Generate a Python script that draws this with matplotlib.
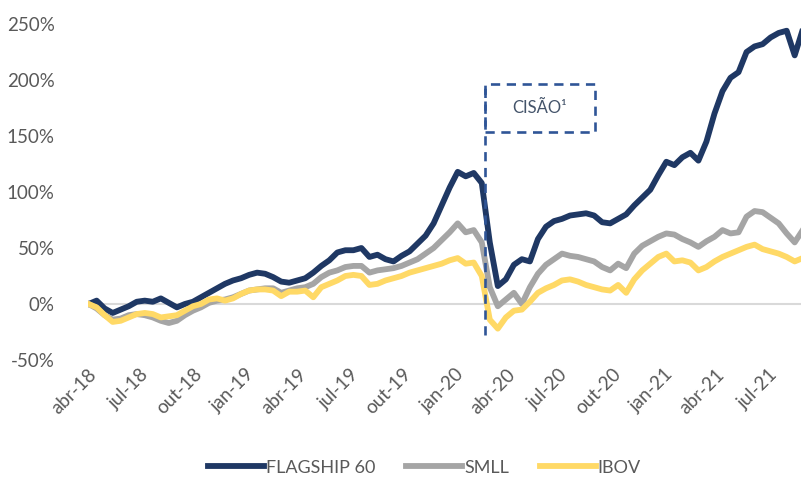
import matplotlib
matplotlib.use("Agg")
import matplotlib.pyplot as plt
import matplotlib.dates as mdates
import pandas as pd
from matplotlib.patches import Rectangle

plt.rcParams['font.family'] = ['Lato', 'DejaVu Sans']

# datas quinzenais (amostragem do eixo x)
datas = pd.date_range('2018-04-02', periods=90, freq='14D')

# retornos acumulados em %
flagship = [0, 3, -4, -8, -5, -2, 2, 3, 2, 5, 1, -3, 0, 2, 6, 10, 14, 18, 21, 23,
            26, 28, 27, 24, 20, 19, 21, 23, 28, 34, 39, 46, 48, 48, 50, 42, 44, 40, 38, 43,
            47, 54, 61, 72, 88, 104, 118, 114, 117, 108, 55, 16, 22, 35, 40, 38, 58, 69, 74, 76,
            79, 80, 81, 79, 73, 72, 76, 80, 88, 95, 102, 115, 127, 124, 131, 135, 128, 145, 170, 190,
            202, 207, 225, 230, 232, 238, 242, 244, 222, 245]
smll = [0, -4, -10, -14, -13, -10, -9, -10, -12, -15, -17, -15, -10, -6, -3, 1, 3, 4, 6, 9,
        12, 13, 14, 14, 10, 12, 14, 15, 18, 24, 28, 30, 33, 34, 34, 28, 30, 31, 32, 34,
        37, 40, 45, 50, 57, 64, 72, 64, 66, 55, 15, -2, 4, 10, 0, 15, 27, 35, 40, 45,
        43, 42, 40, 38, 33, 30, 36, 32, 45, 52, 56, 60, 63, 62, 58, 55, 51, 56, 60, 66,
        63, 64, 78, 83, 82, 77, 72, 63, 55, 66]
ibov = [0, -3, -10, -16, -15, -12, -9, -8, -9, -12, -11, -10, -6, -2, 0, 4, 5, 3, 5, 9,
        12, 13, 13, 12, 7, 11, 11, 12, 6, 15, 18, 21, 25, 26, 25, 17, 18, 21, 23, 25,
        28, 30, 32, 34, 36, 39, 41, 36, 37, 25, -14, -22, -12, -6, -5, 2, 10, 14, 17, 21,
        22, 20, 17, 15, 13, 12, 17, 10, 22, 30, 36, 42, 45, 38, 39, 37, 30, 33, 38, 42,
        45, 48, 51, 53, 49, 47, 45, 42, 38, 41]

data_cisao = pd.Timestamp('2020-02-22')

cor_flag = '#1F3864'
cor_smll = '#A5A5A5'
cor_ibov = '#FFD966'
cor_caixa = '#2F5597'
cor_texto = '#595959'

fig = plt.figure(figsize=(8.01, 4.87), dpi=100)
ax = fig.add_axes([0.1099, 0.2608, 0.8901, 0.6899])

# linha do zero
ax.axhline(0, color='#D9D9D9', linewidth=1.5, zorder=1)

ax.plot(datas, flagship, color=cor_flag, linewidth=4.2, label='FLAGSHIP 60', zorder=3)
ax.plot(datas, smll, color=cor_smll, linewidth=4.2, label='SMLL', zorder=4)
ax.plot(datas, ibov, color=cor_ibov, linewidth=4.2, label='IBOV', zorder=5)

# marcacao da cisao
tracejado = (0, (3.5, 2.5))
ax.plot([data_cisao, data_cisao], [-28, 196], color=cor_caixa, linewidth=1.9,
        linestyle=tracejado, zorder=6)
largura = pd.Timedelta(days=192)
caixa = Rectangle((mdates.date2num(data_cisao), 154), largura.days, 42,
                  fill=False, edgecolor=cor_caixa, linewidth=1.9,
                  linestyle=tracejado, zorder=6)
ax.add_patch(caixa)
ax.text(data_cisao + largura / 2, 175, 'CISÃO¹', ha='center', va='center',
        fontsize=12, color='#44546A')

ax.set_ylim(-50, 250)
ax.set_xlim(pd.Timestamp('2018-04-01'), pd.Timestamp('2021-08-27'))
ax.set_yticks(range(-50, 251, 50))
ax.set_yticklabels([f'{v}%' for v in range(-50, 251, 50)])

meses = ['jan', 'fev', 'mar', 'abr', 'mai', 'jun', 'jul', 'ago', 'set', 'out', 'nov', 'dez']
ticks_x = pd.date_range('2018-04-01', '2021-07-01', freq='QS-APR')
ax.set_xticks(ticks_x)
ax.set_xticklabels([f'{meses[d.month - 1]}-{d.strftime("%y")}' for d in ticks_x],
                   rotation=45, ha='right', rotation_mode='anchor')

ax.tick_params(axis='both', length=0, labelsize=13.5, colors=cor_texto)
ax.tick_params(axis='y', pad=24)
ax.tick_params(axis='x', pad=4)
for lado in ['top', 'right', 'left', 'bottom']:
    ax.spines[lado].set_visible(False)

fig.legend(loc='lower center', bbox_to_anchor=(0.53, -0.01), ncol=3, frameon=False,
           fontsize=13, handlelength=3.1, handletextpad=0.1, columnspacing=1.7,
           labelcolor=cor_texto)

fig.savefig('out.png', dpi=100)
